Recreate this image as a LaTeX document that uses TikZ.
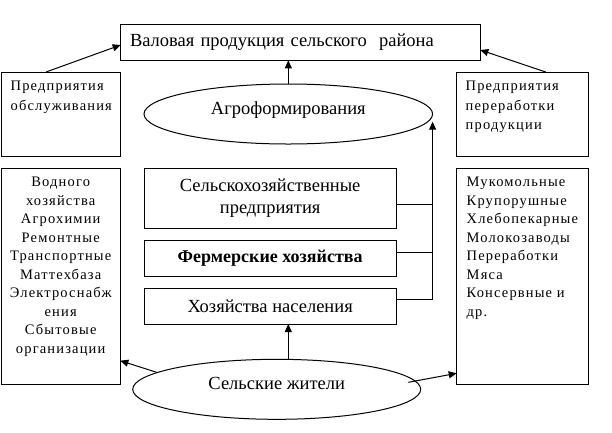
\documentclass[tikz,border=0pt]{standalone}
\usepackage{fontspec}
\setmainfont{Liberation Serif}
\newfontfamily\smallfam[LetterSpace=8]{Liberation Serif}
\usetikzlibrary{arrows.meta,shapes.geometric,calc}
\begin{document}
\begin{tikzpicture}[x=1pt,y=-1pt,
  every node/.style={inner sep=0pt, outer sep=0pt},
  box/.style={draw, line width=1pt, rectangle, anchor=north west},
  oval/.style={draw, line width=1pt, ellipse, text height=6pt, text depth=6pt},
  big/.style={font=\fontsize{18.5}{22.4}\selectfont},
  small/.style={font=\smallfam\fontsize{14.5}{19.3}\selectfont},
  smallb/.style={font=\smallfam\fontsize{14.5}{18.5}\selectfont},
  link/.style={line width=1pt},
  arr/.style={line width=1pt, -{Triangle[length=8pt,width=7pt]}}]
\path[use as bounding box] (0,0) rectangle (612,432);
% boxes
\node[box, big, minimum width=359.6pt, minimum height=36pt, text width=341pt, inner xsep=9.3pt, align=left]
  (title) at (120.7,24.3) {Валовая продукция сельского~~района};
\node[box, minimum width=119.3pt, minimum height=84pt] (lt) at (1,72) {};
\node[box, minimum width=131.6pt, minimum height=84pt] (rt) at (456.7,72) {};
\node[box, minimum width=119.3pt, minimum height=215.7pt] (lb) at (1,168.3) {};
\node[box, minimum width=131.6pt, minimum height=215.7pt] (rb) at (456.7,168.3) {};
\node[box, big, minimum width=251.7pt, minimum height=60pt, align=center] (sh) at (144.3,168.3)
  {Сельскохозяйственные\\предприятия};
\node[box, minimum width=251.7pt, minimum height=36pt, font=\bfseries\fontsize{18}{22}\selectfont] (fh) at (144.3,240) {Фермерские хозяйства};
\node[box, big, minimum width=251.7pt, minimum height=35.7pt] (hn) at (144.3,288.3) {Хозяйства населения};
\node[oval, big, minimum width=288.6pt, minimum height=60pt] (agro) at (288.3,114) {Агроформирования};
\node[oval, big, minimum width=288pt, minimum height=60pt] (sel) at (276.7,389.3) {Сельские жители};
% box texts
\node[small, anchor=base west] (ltt) at (10.7,90.7)
  {\begin{tabular}[t]{@{}l@{}}Предприятия\\обслуживания\end{tabular}};
\node[small, anchor=base west] (rtt) at (465.7,90.7)
  {\begin{tabular}[t]{@{}l@{}}Предприятия\\переработки\\продукции\end{tabular}};
\node[smallb, anchor=base] (lbt) at (60.7,186.7)
  {\begin{tabular}[t]{@{}c@{}}Водного\\хозяйства\\Агрохимии\\Ремонтные\\Транспортные\\Маттехбаза\\Электроснабж\\ения\\Сбытовые\\организации\end{tabular}};
\node[smallb, anchor=base west] (rbt) at (466.7,186.7)
  {\begin{tabular}[t]{@{}l@{}}Мукомольные\\Крупорушные\\Хлебопекарные\\Молокозаводы\\Переработки\\Мяса\\Консервные и\\др.\end{tabular}};
% connectors
\draw[arr] (agro.north) -- (agro.north |- title.south);
\draw[arr] ([xshift=45pt]lt.north west) -- ([yshift=-2.7pt]title.west);
\draw[arr] ([xshift=89pt]rt.north west) -- ([yshift=-7.7pt]title.east);
\draw[link] ([yshift=-6pt]sh.east) -- ([yshift=-6pt]sh.east -| agro.east);
\draw[link] ([yshift=5.7pt]fh.east) -- ([yshift=5.7pt]fh.east -| agro.east);
\draw[arr] ([yshift=6.2pt]hn.east) -| ([yshift=-7.7pt]agro.east);
\draw[arr] (sel.north -| agro.north) -- (hn.south -| agro.north);
\draw[arr] (sel.172) -- ([yshift=23.3pt]lb.south east);
\draw[arr] ($(sel.east)+(-12.4,-7)$) -- ([yshift=10.7pt]rb.south west);
\end{tikzpicture}
\end{document}
